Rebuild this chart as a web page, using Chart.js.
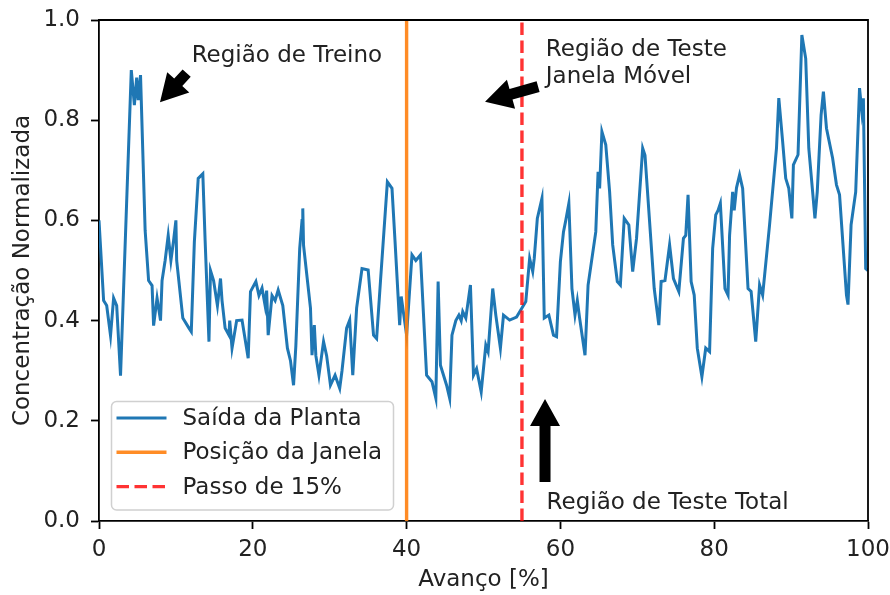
<!DOCTYPE html>
<html>
<head>
<meta charset="utf-8">
<script src="https://cdn.jsdelivr.net/npm/chart.js@4.4.1/dist/chart.umd.min.js"></script>
<style>
    html, body { margin: 0; padding: 0; background: #fff; }
    #wrap { width: 890px; height: 595px; }
</style>
</head>
<body>
<div id="wrap"><canvas id="chart" width="890" height="595"></canvas></div>
<script>
// DATA
const avanco = [
    0, 0.6, 1.0, 1.5, 1.9, 2.3, 2.8, 4.2, 4.6, 4.9,
    5.1, 5.4, 6.0, 6.45, 6.9, 7.1, 7.55, 8.0, 8.2, 8.6,
    9.0, 9.35, 9.7, 10.0, 10.1, 10.9, 11.7, 12.0, 12.4, 12.9,
    13.5, 13.8, 14.3, 14.5, 14.9, 15.4, 15.8, 16.0, 16.4, 16.9,
    17.0, 17.3, 17.9, 18.6, 19.4, 19.7, 20.4, 20.8, 21.2, 21.6,
    21.8, 22.0, 22.5, 22.9, 23.3, 23.9, 24.5, 24.9, 25.3, 25.6,
    26.1, 26.4, 26.5, 26.6, 27.5, 27.7, 28.0, 28.2, 28.6, 29.2,
    29.6, 30.1, 30.7, 31.3, 31.6, 32.2, 32.6, 33.0, 33.5, 34.2,
    35.0, 35.7, 36.1, 36.6, 37.5, 38.1, 38.5, 39.1, 39.3, 40.0,
    40.7, 41.2, 41.8, 42.2, 42.6, 43.3, 43.8, 44.1, 44.4, 45.2,
    45.6, 45.9, 46.4, 46.8, 47.1, 47.3, 47.7, 48.3, 48.7, 49.1,
    49.7, 50.3, 50.6, 51.2, 51.6, 52.2, 52.6, 53.4, 54.3, 55.0,
    55.5, 56.0, 56.4, 56.6, 57.0, 57.6, 57.9, 58.5, 59.1, 59.5,
    60.0, 60.4, 60.7, 61.1, 61.5, 61.9, 62.2, 62.5, 63.2, 63.6,
    64.6, 64.9, 65.1, 65.4, 65.9, 66.4, 66.8, 67.4, 67.8, 68.3,
    68.9, 69.4, 69.9, 70.7, 71.0, 71.6, 72.2, 72.8, 73.1, 73.6,
    74.2, 74.7, 75.4, 76.0, 76.3, 76.6, 77.0, 77.4, 77.8, 78.4,
    78.9, 79.4, 79.8, 80.2, 80.5, 80.8, 81.4, 81.8, 82.0, 82.4,
    82.6, 82.9, 83.3, 83.7, 84.4, 84.8, 85.4, 85.9, 86.3, 86.9,
    87.2, 88.1, 88.4, 88.9, 89.3, 89.7, 90.1, 90.3, 90.9, 91.4,
    91.9, 92.3, 92.8, 93.1, 93.4, 93.9, 94.2, 94.6, 95.4, 95.9,
    96.3, 97.2, 97.4, 97.8, 98.4, 98.9, 99.2, 99.4, 99.7, 100.0
];
const concentracao = [
    0.60, 0.44, 0.43, 0.37, 0.445, 0.43, 0.29, 0.90, 0.83, 0.885,
    0.84, 0.89, 0.58, 0.48, 0.47, 0.39, 0.445, 0.40, 0.48, 0.52,
    0.57, 0.52, 0.56, 0.60, 0.52, 0.405, 0.385, 0.378, 0.557, 0.684,
    0.693, 0.56, 0.358, 0.50, 0.48, 0.43, 0.484, 0.44, 0.385, 0.371,
    0.40, 0.345, 0.40, 0.401, 0.325, 0.458, 0.478, 0.45, 0.465, 0.43,
    0.46, 0.371, 0.45, 0.44, 0.461, 0.43, 0.345, 0.32, 0.271, 0.35,
    0.544, 0.60, 0.624, 0.55, 0.425, 0.331, 0.391, 0.33, 0.291, 0.358,
    0.33, 0.271, 0.291, 0.265, 0.30, 0.385, 0.401, 0.291, 0.425, 0.504,
    0.501, 0.371, 0.364, 0.478, 0.677, 0.664, 0.557, 0.391, 0.448, 0.371,
    0.531, 0.52, 0.531, 0.411, 0.291, 0.278, 0.245, 0.478, 0.311, 0.271,
    0.245, 0.371, 0.40, 0.411, 0.40, 0.418, 0.405, 0.471, 0.291, 0.304,
    0.258, 0.351, 0.338, 0.464, 0.411, 0.345, 0.411, 0.401, 0.407, 0.425,
    0.438, 0.524, 0.498, 0.524, 0.604, 0.644, 0.405, 0.411, 0.371, 0.368,
    0.518, 0.577, 0.60, 0.634, 0.464, 0.411, 0.44, 0.405, 0.331, 0.471,
    0.577, 0.697, 0.664, 0.777, 0.751, 0.657, 0.551, 0.478, 0.471, 0.604,
    0.591, 0.498, 0.564, 0.744, 0.73, 0.597, 0.464, 0.391, 0.478, 0.48,
    0.551, 0.484, 0.458, 0.564, 0.57, 0.651, 0.478, 0.451, 0.345, 0.288,
    0.345, 0.338, 0.544, 0.611, 0.62, 0.634, 0.464, 0.451, 0.57, 0.657,
    0.62, 0.665, 0.691, 0.664, 0.464, 0.458, 0.358, 0.471, 0.451, 0.544,
    0.591, 0.744, 0.844, 0.757, 0.684, 0.664, 0.604, 0.711, 0.731, 0.970,
    0.923, 0.744, 0.657, 0.604, 0.657, 0.810, 0.857, 0.784, 0.724, 0.671,
    0.651, 0.451, 0.432, 0.591, 0.657, 0.864, 0.817, 0.844, 0.504, 0.50
];
const posicaoJanela = 40;   // % where the window sits
const passo = 55;           // window + 15% step
const xTicks = [0, 20, 40, 60, 80, 100];
const yTicks = [0, 0.2, 0.4, 0.6, 0.8, 1.0];

const FONT = "'DejaVu Sans', sans-serif";
const FSIZE = 23;
const TEXT = '#222222';

// annotations: text position and arrow tip/tail in data units
const annotations = [
    { lines: ['Região de Treino'], x: 12.05, y: 0.917, tip: [7.93, 0.836], tail: [11.4, 0.894] },
    { lines: ['Região de Teste', 'Janela Móvel'], x: 58.1, y: 0.928, tip: [50.2, 0.837], tail: [57.1, 0.867] },
    { lines: ['Região de Teste Total'], x: 58.2, y: 0.0234, tip: [58.0, 0.2435], tail: [58.0, 0.078] }
];

//  HELPERS
function drawArrow(ctx, tx, ty, sx, sy) {
    const shaft = 11, headW = 30, headL = 27;
    const len = Math.hypot(tx - sx, ty - sy);
    const ux = (tx - sx) / len, uy = (ty - sy) / len;
    const nx = -uy, ny = ux;
    const bx = tx - ux * headL, by = ty - uy * headL;
    ctx.beginPath();
    ctx.moveTo(sx + nx * shaft / 2, sy + ny * shaft / 2);
    ctx.lineTo(bx + nx * shaft / 2, by + ny * shaft / 2);
    ctx.lineTo(bx + nx * headW / 2, by + ny * headW / 2);
    ctx.lineTo(tx, ty);
    ctx.lineTo(bx - nx * headW / 2, by - ny * headW / 2);
    ctx.lineTo(bx - nx * shaft / 2, by - ny * shaft / 2);
    ctx.lineTo(sx - nx * shaft / 2, sy - ny * shaft / 2);
    ctx.closePath();
    ctx.fillStyle = '#000';
    ctx.fill();
}

// frame, legend box and annotations
const extras = {
    id: 'extras',
    afterDatasetsDraw(chart) {
        const { ctx, chartArea: a, scales: { x, y } } = chart;
        ctx.save();

        // top/right spines
        ctx.strokeStyle = '#000';
        ctx.lineWidth = 1.8;
        ctx.beginPath();
        ctx.moveTo(a.left, a.top);
        ctx.lineTo(a.right, a.top);
        ctx.lineTo(a.right, a.bottom);
        ctx.stroke();

        // legend (lower left, matplotlib style)
        const lx = a.left + 12.5, ly = a.bottom - 119.5, lw = 282, lh = 108.5;
        ctx.beginPath();
        ctx.roundRect(lx, ly, lw, lh, 5);
        ctx.fillStyle = 'rgba(255,255,255,0.8)';
        ctx.fill();
        ctx.strokeStyle = '#d0d0d0';
        ctx.lineWidth = 1.5;
        ctx.stroke();
        ctx.font = FSIZE + 'px ' + FONT;
        ctx.textBaseline = 'middle';
        ctx.textAlign = 'left';
        chart.data.datasets.forEach((ds, i) => {
            const rowY = ly + 16.5 + i * 34.3;
            ctx.beginPath();
            ctx.strokeStyle = ds.borderColor;
            ctx.lineWidth = ds.borderWidth;
            ctx.setLineDash(ds.borderDash || []);
            ctx.moveTo(lx + 5, rowY);
            ctx.lineTo(lx + 55, rowY);
            ctx.stroke();
            ctx.setLineDash([]);
            ctx.fillStyle = TEXT;
            ctx.fillText(ds.label, lx + 71, rowY + 1);
        });

        // annotations
        ctx.textBaseline = 'alphabetic';
        annotations.forEach(an => {
            const px = x.getPixelForValue(an.x);
            const py = y.getPixelForValue(an.y);
            an.lines.forEach((t, i) => {
                ctx.fillStyle = TEXT;
                ctx.fillText(t, px, py + i * 27.3);
            });
            drawArrow(ctx,
                x.getPixelForValue(an.tip[0]), y.getPixelForValue(an.tip[1]),
                x.getPixelForValue(an.tail[0]), y.getPixelForValue(an.tail[1]));
        });

        ctx.restore();
    }
};

//  CHART
const serie = avanco.map((v, i) => ({ x: v, y: concentracao[i] }));

new Chart(document.getElementById('chart'), {
    type: 'scatter',
    data: {
        datasets: [
            {
                label: 'Saída da Planta',
                data: serie,
                showLine: true,
                borderColor: '#1f77b4',
                borderWidth: 3,
                pointRadius: 0,
                tension: 0,
                order: 3
            },
            {
                label: 'Posição da Janela',
                data: [{ x: posicaoJanela, y: 0 }, { x: posicaoJanela, y: 1 }],
                showLine: true,
                borderColor: 'rgba(255,127,14,0.9)',
                borderWidth: 3.4,
                pointRadius: 0,
                order: 2
            },
            {
                label: 'Passo de 15%',
                data: [{ x: passo, y: 0 }, { x: passo, y: 1 }],
                showLine: true,
                borderColor: 'rgba(255,0,0,0.8)',
                borderWidth: 3.4,
                borderDash: [12.5, 5.5],
                pointRadius: 0,
                order: 1
            }
        ]
    },
    options: {
        responsive: false,
        animation: false,
        layout: { padding: { top: 20, right: 22, left: 0, bottom: 0 } },
        plugins: {
            legend: { display: false },
            tooltip: { enabled: false }
        },
        scales: {
            x: {
                type: 'linear',
                min: 0,
                max: 100,
                afterFit: s => {
                    s.height = 74;
                    s.paddingLeft = 0;
                    s.paddingRight = 0;
                },
                afterBuildTicks: s => { s.ticks = xTicks.map(v => ({ value: v })); },
                ticks: {
                    color: TEXT,
                    font: { family: FONT, size: FSIZE },
                    padding: 7,
                    maxRotation: 0,
                    callback: v => String(v)
                },
                grid: {
                    drawOnChartArea: false,
                    drawTicks: true,
                    tickLength: 8,
                    tickWidth: 1.8,
                    tickColor: '#000'
                },
                border: { display: true, color: '#000', width: 1.8 },
                title: {
                    display: true,
                    text: 'Avanço [%]',
                    color: TEXT,
                    font: { family: FONT, size: FSIZE },
                    padding: { top: 0, bottom: 1 }
                }
            },
            y: {
                min: 0,
                max: 1,
                afterFit: s => {
                    s.width = 99;
                    s.paddingTop = 0;
                    s.paddingBottom = 0;
                },
                afterBuildTicks: s => { s.ticks = yTicks.map(v => ({ value: v })); },
                ticks: {
                    color: TEXT,
                    font: { family: FONT, size: FSIZE },
                    padding: 11,
                    callback: v => v.toFixed(1)
                },
                grid: {
                    drawOnChartArea: false,
                    drawTicks: true,
                    tickLength: 8,
                    tickWidth: 1.8,
                    tickColor: '#000'
                },
                border: { display: true, color: '#000', width: 1.8 },
                title: {
                    display: true,
                    text: 'Concentração Normalizada',
                    color: TEXT,
                    font: { family: FONT, size: FSIZE },
                    padding: { top: 9, bottom: 0 }
                }
            }
        }
    },
    plugins: [extras]
});
</script>
</body>
</html>
